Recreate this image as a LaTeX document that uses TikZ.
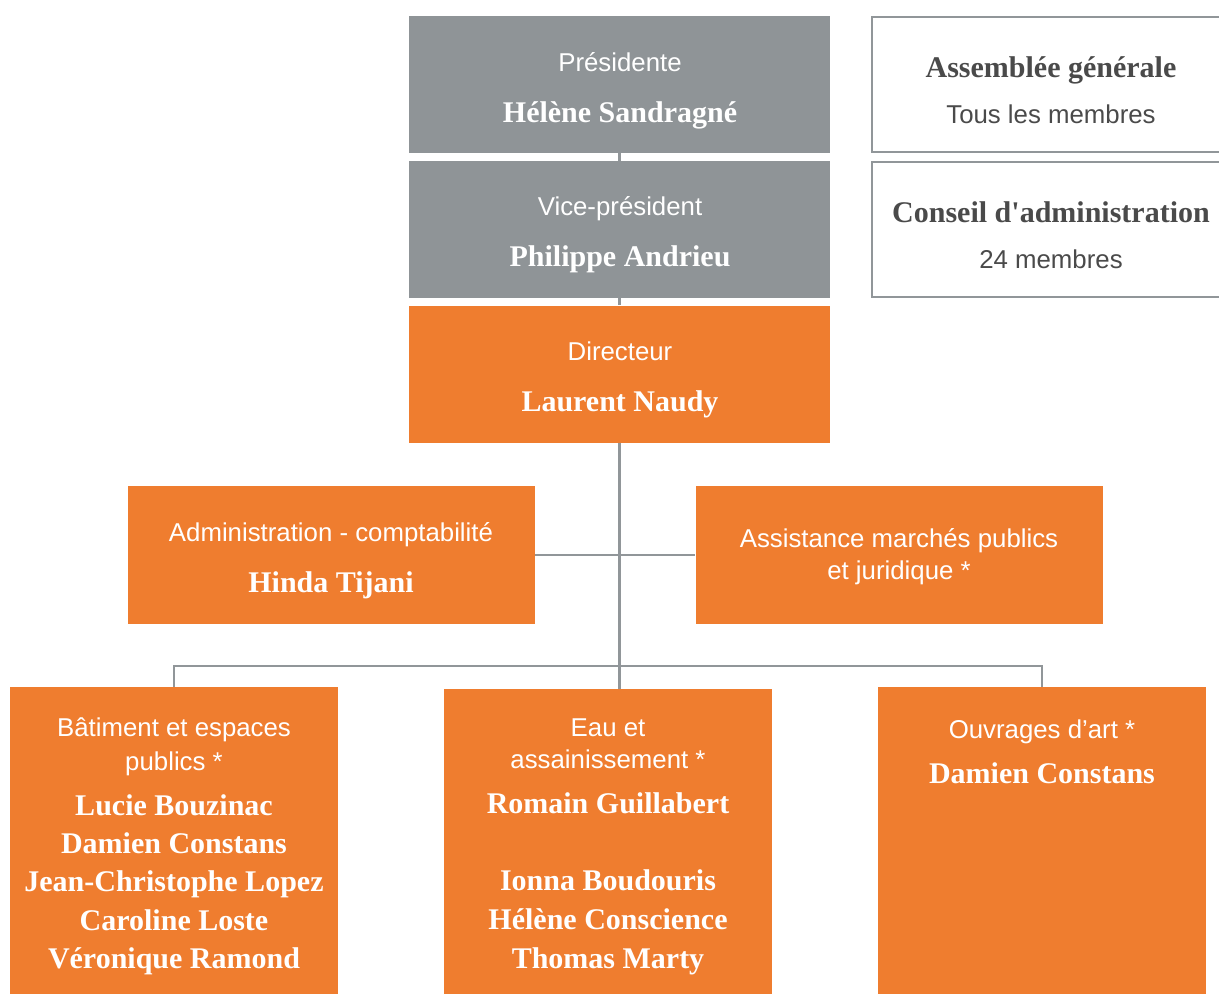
\documentclass[tikz,border=0pt]{standalone}
\usepackage{fontspec}
\setmainfont{Liberation Serif}[Ligatures=TeXOff]
\setsansfont{Liberation Sans}
\definecolor{grayfill}{HTML}{8F9497}
\definecolor{orangefill}{HTML}{EF7D2F}
\definecolor{linegray}{HTML}{919699}
\definecolor{darktext}{HTML}{4A4A4A}
\tikzset{
  boxbase/.style={rectangle, inner sep=0pt, draw=none},
  graybox/.style={boxbase, fill=grayfill, minimum width=421pt, minimum height=137pt},
  orangebox/.style={boxbase, fill=orangefill},
  whitebox/.style={rectangle, inner sep=0pt, draw=linegray, line width=2.5pt, fill=white},
  lbl/.style={inner sep=0pt, anchor=base, text=white, font=\sffamily\fontsize{25.8}{30}\selectfont},
  nm/.style={inner sep=0pt, anchor=base, text=white, font=\bfseries\fontsize{30}{36}\selectfont},
  dlbl/.style={lbl, text=darktext},
  dnm/.style={nm, text=darktext},
  conn/.style={draw=linegray, line width=2.5pt}
}
\begin{document}
\begin{tikzpicture}[x=1pt, y=-1pt]
\useasboundingbox (0,0) rectangle (1219,994);

% boxes
\node[graybox] (pres) at (619.5,84.5) {};
\node[graybox] (vp) at (619.5,229.5) {};
\node[orangebox, minimum width=421pt, minimum height=137pt] (dir) at (619.5,374) {};
\node[orangebox, minimum width=407pt, minimum height=138pt] (admin) at (331,555) {};
\node[orangebox, minimum width=407pt, minimum height=138pt] (assist) at (899,555) {};
\node[orangebox, minimum width=328pt, minimum height=307pt] (bat) at (174,840.5) {};
\node[orangebox, minimum width=328pt, minimum height=305pt] (eau) at (608,841.5) {};
\node[orangebox, minimum width=328pt, minimum height=307pt] (ouv) at (1042,840.5) {};
\node[whitebox, minimum width=358pt, minimum height=135pt] (ag) at (1051,84.5) {};
\node[whitebox, minimum width=358pt, minimum height=135pt] (ca) at (1051,229.5) {};

% connectors
\coordinate (bus) at (620,666);
\draw[conn] (pres.south) -- (vp.north);
\draw[conn] (vp.south) -- (dir.north);
\draw[conn] (dir.south) -- (dir.south |- eau.north);
\draw[conn] (admin.east) -- (assist.west);
\draw[conn] (bat.north) -- (bat.north |- bus) -- (ouv.north |- bus) -- (ouv.north);

% texts
\node[lbl] (presL) at (620,71) {Présidente};
\node[nm] (presN) at (620,122) {Hélène Sandragné};
\node[lbl] (vpL) at (620,215) {Vice-président};
\node[nm] (vpN) at (620,266) {Philippe Andrieu};
\node[lbl] (dirL) at (620,360) {Directeur};
\node[nm] (dirN) at (620,411) {Laurent Naudy};

\node[dnm] (agN) at (1051,77) {Assemblée générale};
\node[dlbl] (agL) at (1051,123) {Tous les membres};
\node[dnm] (caN) at (1051,222) {Conseil d'administration};
\node[dlbl] (caL) at (1051,268) {24 membres};

\node[lbl] (adminL) at (331,541) {Administration - comptabilité};
\node[nm] (adminN) at (331,592) {Hinda Tijani};
\node[lbl] (assistL1) at (899,547) {Assistance marchés publics};
\node[lbl] (assistL2) at (899,579) {et juridique *};

\node[lbl] (batL1) at (174,736) {Bâtiment et espaces};
\node[lbl] (batL2) at (174,770) {publics *};
\node[nm] (batN1) at (174,815) {Lucie Bouzinac};
\node[nm] (batN2) at (174,853) {Damien Constans};
\node[nm] (batN3) at (174,891) {Jean-Christophe Lopez};
\node[nm] (batN4) at (174,930) {Caroline Loste};
\node[nm] (batN5) at (174,968) {Véronique Ramond};

\node[lbl] (eauL1) at (608,736) {Eau et};
\node[lbl] (eauL2) at (608,768) {assainissement *};
\node[nm] (eauN1) at (608,813) {Romain Guillabert};
\node[nm] (eauN2) at (608,890) {Ionna Boudouris};
\node[nm] (eauN3) at (608,929) {Hélène Conscience};
\node[nm] (eauN4) at (608,968) {Thomas Marty};

\node[lbl] (ouvL) at (1042,738) {Ouvrages d’art *};
\node[nm] (ouvN) at (1042,783) {Damien Constans};
\end{tikzpicture}
\end{document}
